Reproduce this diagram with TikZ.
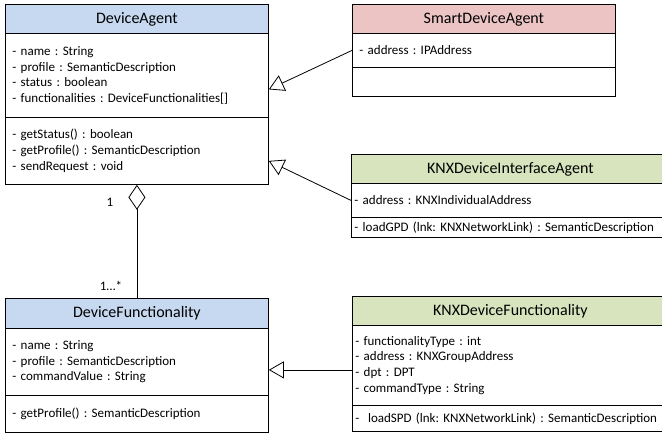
\documentclass[tikz,border=0pt]{standalone}
\usepackage{fontspec}
\setmainfont{Carlito}
\usetikzlibrary{arrows.meta}
\frenchspacing

\definecolor{headblue}{RGB}{198,217,240}
\definecolor{headred}{RGB}{236,196,196}
\definecolor{headgreen}{RGB}{215,228,189}

\tikzset{
	classhead/.style={draw=black, anchor=north west, inner sep=0pt,
		font=\fontsize{16}{19}\selectfont},
	classpart/.style={draw=black, anchor=north west, align=left,
		inner xsep=7pt, inner ysep=0pt, font=\fontsize{13}{15.7}\selectfont},
	knxpart/.style={classpart, inner xsep=3pt, text width=340},
	inherit/.style={-{Triangle[open,length=15pt,width=17pt]}, black},
	aggreg/.style={-{Diamond[open,length=25pt,width=17pt]}, black},
	mult/.style={font=\fontsize{13}{15}\selectfont, inner sep=0pt}
}

\begin{document}
\begin{tikzpicture}[x=1pt,y=-1pt,line width=0.8pt]
	\useasboundingbox (0,0) rectangle (662,434);

	% DeviceAgent
	\node[classhead, fill=headblue, minimum width=263, minimum height=29] (dahead) at (5,4) {DeviceAgent};
	\node[classpart, text width=249, minimum height=84] (daattr) at (5,33)
		{- name : String\\- profile : SemanticDescription\\- status : boolean\\- functionalities : DeviceFunctionalities[]};
	\node[classpart, text width=249, minimum height=67] (dameth) at (5,117)
		{- getStatus() : boolean\\- getProfile() : SemanticDescription\\- sendRequest : void};

	% SmartDeviceAgent
	\node[classhead, fill=headred, minimum width=263, minimum height=29] (sdahead) at (352,4) {SmartDeviceAgent};
	\node[classpart, text width=249, minimum height=34] (sdaattr) at (352,33) {- address : IPAddress};
	\node[classpart, text width=249, minimum height=29] (sdameth) at (352,67) {};

	% KNXDeviceInterfaceAgent (runs past the right edge)
	\node[classhead, fill=headgreen, minimum width=318, minimum height=29] (kdiahead) at (351,154) {KNXDeviceInterfaceAgent};
	\node[knxpart, minimum height=34] (kdiaattr) at (351,183) {- address : KNXIndividualAddress};
	\node[knxpart, minimum height=20] (kdiameth) at (351,217)
		{- loadGPD (lnk: KNXNetworkLink) : SemanticDescription};

	% DeviceFunctionality
	\node[classhead, fill=headblue, minimum width=263, minimum height=30] (dfhead) at (5,298) {DeviceFunctionality};
	\node[classpart, text width=249, minimum height=67] (dfattr) at (5,328)
		{- name : String\\- profile : SemanticDescription\\- commandValue : String};
	\node[classpart, text width=249, minimum height=37] (dfmeth) at (5,395)
		{- getProfile() : SemanticDescription};

	% KNXDeviceFunctionality (runs past the right edge)
	\node[classhead, fill=headgreen, minimum width=316, minimum height=29] (kdfhead) at (352,296) {KNXDeviceFunctionality};
	\node[knxpart, minimum height=80] (kdfattr) at (352,325)
		{- functionalityType : int\\- address : KNXGroupAddress\\- dpt : DPT\\- commandType : String};
	\node[knxpart, minimum height=26] (kdfmeth) at (352,405)
		{-\ \ loadSPD (lnk: KNXNetworkLink) : SemanticDescription};

	% connectors
	\coordinate (datip1) at ([yshift=-14pt]daattr.east);
	\coordinate (datip2) at ([yshift=-10pt]dameth.east);
	\coordinate (dftip) at ([yshift=-8pt]dfattr.east);

	\draw[inherit] (sdaattr.west) -- (datip1);
	\draw[inherit] (kdiaattr.west) -- (datip2);
	\draw[inherit] (kdfattr.west |- dftip) -- (dftip);
	\draw[aggreg] (dfhead.north) -- (dameth.south);

	\node[mult] (multone) at (110,202) {1};
	\node[mult] (multmany) at (111,286) {1…*};
\end{tikzpicture}
\end{document}
